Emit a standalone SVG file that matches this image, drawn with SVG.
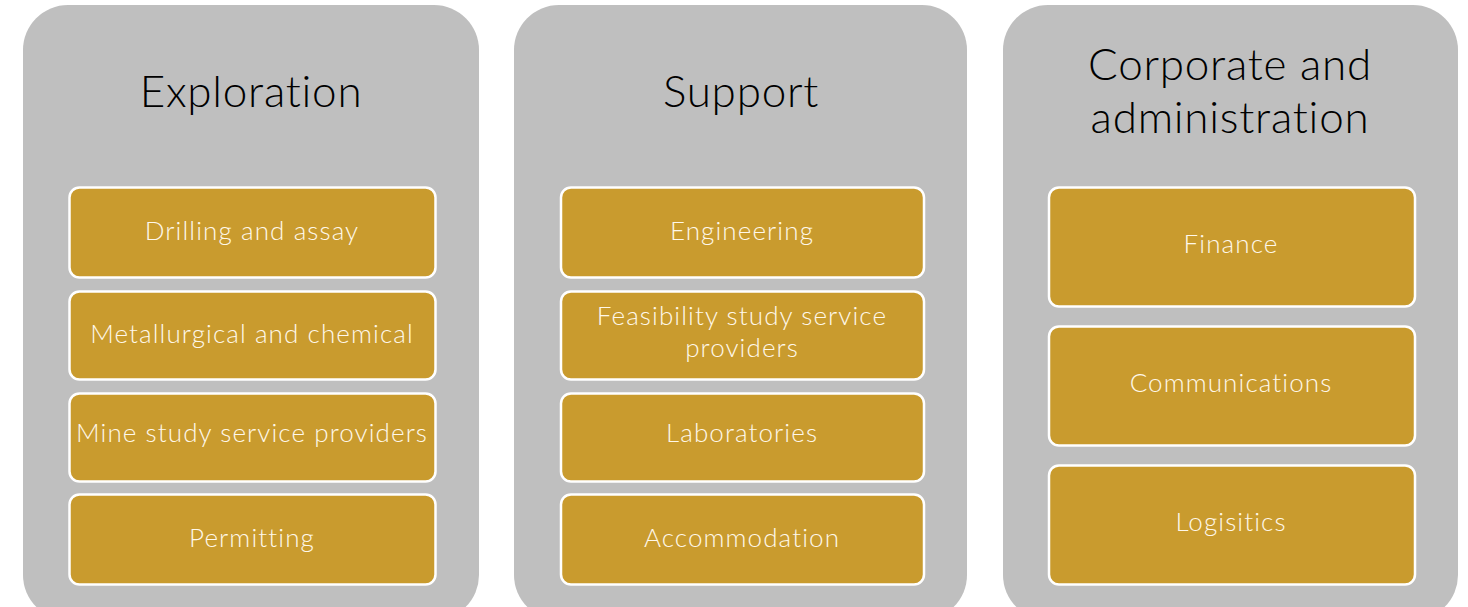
<svg xmlns="http://www.w3.org/2000/svg" width="1468" height="607" viewBox="0 0 1468 607">
<style>
.panel{fill:#BFBFBF;}
.box{fill:#C99B2E;stroke:#FFFFFF;stroke-width:2.5;}
.title{font-family:Lato,"Open Sans","Liberation Sans",sans-serif;font-weight:300;font-size:44px;letter-spacing:0.75px;fill:#000000;text-anchor:middle;}
.lbl{font-family:Lato,"Open Sans","Liberation Sans",sans-serif;font-weight:300;font-size:26px;letter-spacing:1.1px;fill:#FFF8EA;text-anchor:middle;}
</style>
<rect width="1468" height="607" fill="#FFFFFF"/>
<g id="exploration">
<rect class="panel" x="23" y="5" width="456" height="615" rx="45"/>
<text class="title" x="251" y="107">Exploration</text>
<g id="drilling"><rect class="box" x="69.5" y="187.5" width="366" height="90" rx="10"/><text class="lbl" x="252" y="240">Drilling and assay</text></g>
<g id="metallurgical"><rect class="box" x="69.5" y="291.5" width="366" height="88" rx="10"/><text class="lbl" x="252" y="343">Metallurgical and chemical</text></g>
<g id="minestudy"><rect class="box" x="69.5" y="393.5" width="366" height="88" rx="10"/><text class="lbl" x="252" y="442">Mine study service providers</text></g>
<g id="permitting"><rect class="box" x="69.5" y="494.5" width="366" height="90" rx="10"/><text class="lbl" x="252" y="547">Permitting</text></g>
</g>
<g id="support">
<rect class="panel" x="514" y="5" width="453" height="615" rx="45"/>
<text class="title" x="741" y="107">Support</text>
<g id="engineering"><rect class="box" x="561" y="187.5" width="363" height="90" rx="10"/><text class="lbl" x="742" y="240">Engineering</text></g>
<g id="feasibility"><rect class="box" x="561" y="291.5" width="363" height="88" rx="10"/><text class="lbl" x="742" y="325">Feasibility study service</text><text class="lbl" x="742" y="357">providers</text></g>
<g id="laboratories"><rect class="box" x="561" y="393.5" width="363" height="88" rx="10"/><text class="lbl" x="742" y="442">Laboratories</text></g>
<g id="accommodation"><rect class="box" x="561" y="494.5" width="363" height="90" rx="10"/><text class="lbl" x="742" y="547">Accommodation</text></g>
</g>
<g id="corporate">
<rect class="panel" x="1003" y="5" width="455" height="615" rx="45"/>
<text class="title" x="1230" y="80">Corporate and</text>
<text class="title" x="1230" y="133">administration</text>
<g id="finance"><rect class="box" x="1049" y="187.5" width="366" height="119" rx="10"/><text class="lbl" x="1231" y="253">Finance</text></g>
<g id="communications"><rect class="box" x="1049" y="326.5" width="366" height="119" rx="10"/><text class="lbl" x="1231" y="392">Communications</text></g>
<g id="logistics"><rect class="box" x="1049" y="465.5" width="366" height="119" rx="10"/><text class="lbl" x="1231" y="531">Logisitics</text></g>
</g>
<g id="connectors"></g>
</svg>
